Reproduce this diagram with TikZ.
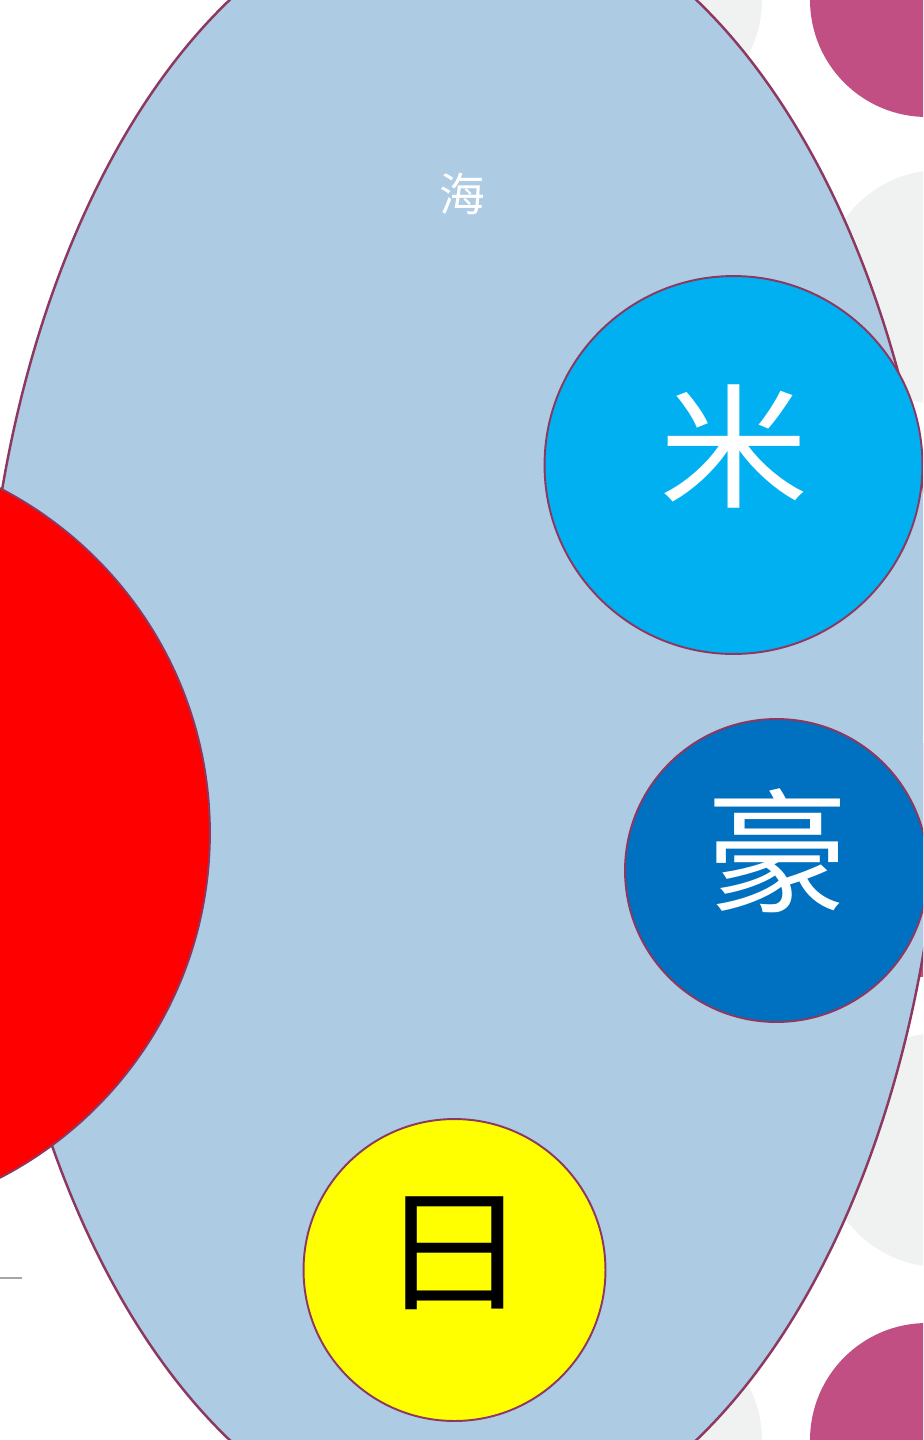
\documentclass[tikz,border=0pt]{standalone}
\usepackage{fontspec}
\usepackage{graphicx}
\newfontfamily\cjk{Noto Sans CJK SC}
\usetikzlibrary{shapes.geometric}
\definecolor{sea}{RGB}{174,203,228}
\definecolor{rim}{RGB}{140,56,96}
\definecolor{rice}{RGB}{0,176,240}
\definecolor{gou}{RGB}{0,112,192}
\definecolor{sun}{RGB}{255,255,0}
\definecolor{hino}{RGB}{255,0,0}
\definecolor{pinkd}{RGB}{194,79,132}
\definecolor{greyd}{RGB}{240,242,241}
\definecolor{gline}{RGB}{166,166,166}
\newcommand{\flatglyph}[1]{\scalebox{1}[0.9]{#1}}
\begin{document}
\begin{tikzpicture}[x=0.02cm,y=-0.02cm,
  disc/.style={circle,draw=rim,line width=1.1pt,inner sep=0pt},
  deco/.style={circle,inner sep=0pt,minimum size=4.68cm},
  bigglyph/.style={font=\cjk\fontsize{85}{85}\selectfont,inner sep=0pt},
  smallglyph/.style={font=\cjk\fontsize{26}{26}\selectfont,inner sep=0pt,text=white}]
\useasboundingbox (0,0) rectangle (923,1440);
\clip (0,0) rectangle (923,1440);
\fill[white] (0,0) rectangle (923,1440);
% background decoration
\node[deco,fill=greyd] (g1) at (645,0) {};
\node[deco,fill=greyd] (g2) at (645,1440) {};
\node[deco,fill=greyd] (g3) at (940,287) {};
\node[deco,fill=greyd] (g4) at (940,1150) {};
\node[deco,fill=pinkd] (p1) at (927,0) {};
\node[deco,fill=pinkd] (p2) at (927,860) {};
\node[deco,fill=pinkd] (p3) at (927,1440) {};
\coordinate (la) at (0,1278);
\coordinate (lb) at (22,1278);
\draw[gline,line width=1.6pt] (la) -- (lb);
% sea
\node[ellipse,draw=rim,fill=sea,line width=1.4pt,inner sep=0pt,
  minimum width=19.2cm,minimum height=32.96cm] (sea) at (463,720) {};
\node[smallglyph] (seat) at (462,194) {海};
% countries
\node[disc,fill=hino,minimum size=15.52cm] (jp) at (-178,833) {};
\node[disc,fill=rice,minimum size=7.56cm] (us) at (733.5,465) {};
\node[disc,fill=gou,minimum size=6.06cm] (au) at (776.5,870.5) {};
\node[disc,fill=sun,minimum size=6.04cm] (hi) at (454.5,1270) {};
\node[bigglyph,text=white] (ust) at (734,446) {\flatglyph{米}};
\node[bigglyph,text=white] (aut) at (777,851) {\scalebox{0.95}[0.9]{豪}};
\node[bigglyph,text=black] (hit) at (454,1253) {\flatglyph{日}};
\end{tikzpicture}
\end{document}
